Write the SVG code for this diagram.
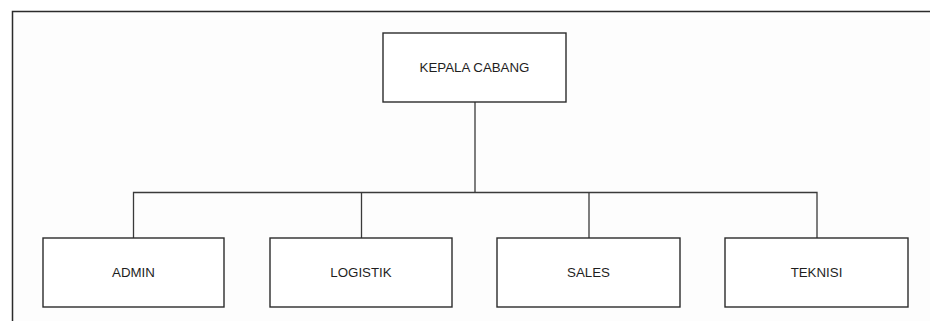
<svg xmlns="http://www.w3.org/2000/svg" width="930" height="321" viewBox="0 0 930 321">
<style>
.box{fill:#ffffff;stroke:#2b2b2b;stroke-width:1.4}
.lbl{font-family:"Liberation Sans",Arial,sans-serif;font-size:13.3px;fill:#1e1e1e;text-anchor:middle}
.con{fill:none;stroke:#3a3a3a;stroke-width:1.3}
</style>
<rect x="0" y="0" width="930" height="321" fill="#ffffff"/>
<rect x="12.5" y="11.5" width="917.5" height="309.5" fill="#fdfdfd"/>
<path d="M12.5 321 V11.5 H930" fill="none" stroke="#2b2b2b" stroke-width="1.5"/>
<g id="connectors">
<path class="con" d="M475 102 V192.5"/>
<path class="con" d="M133.5 238 V192.5 H817 V238"/>
<path class="con" d="M361.5 192.5 V238"/>
<path class="con" d="M589 192.5 V238"/>
</g>
<g id="kepala-cabang">
<rect class="box" x="383" y="33" width="183" height="69"/>
<text class="lbl" x="474.5" y="72">KEPALA CABANG</text>
</g>
<g id="admin">
<rect class="box" x="43" y="238" width="181" height="69"/>
<text class="lbl" x="133.5" y="277">ADMIN</text>
</g>
<g id="logistik">
<rect class="box" x="270" y="238" width="182" height="69"/>
<text class="lbl" x="361" y="277">LOGISTIK</text>
</g>
<g id="sales">
<rect class="box" x="497" y="238" width="183" height="69"/>
<text class="lbl" x="588.5" y="277">SALES</text>
</g>
<g id="teknisi">
<rect class="box" x="725" y="238" width="183" height="69"/>
<text class="lbl" x="816.5" y="277">TEKNISI</text>
</g>
</svg>
